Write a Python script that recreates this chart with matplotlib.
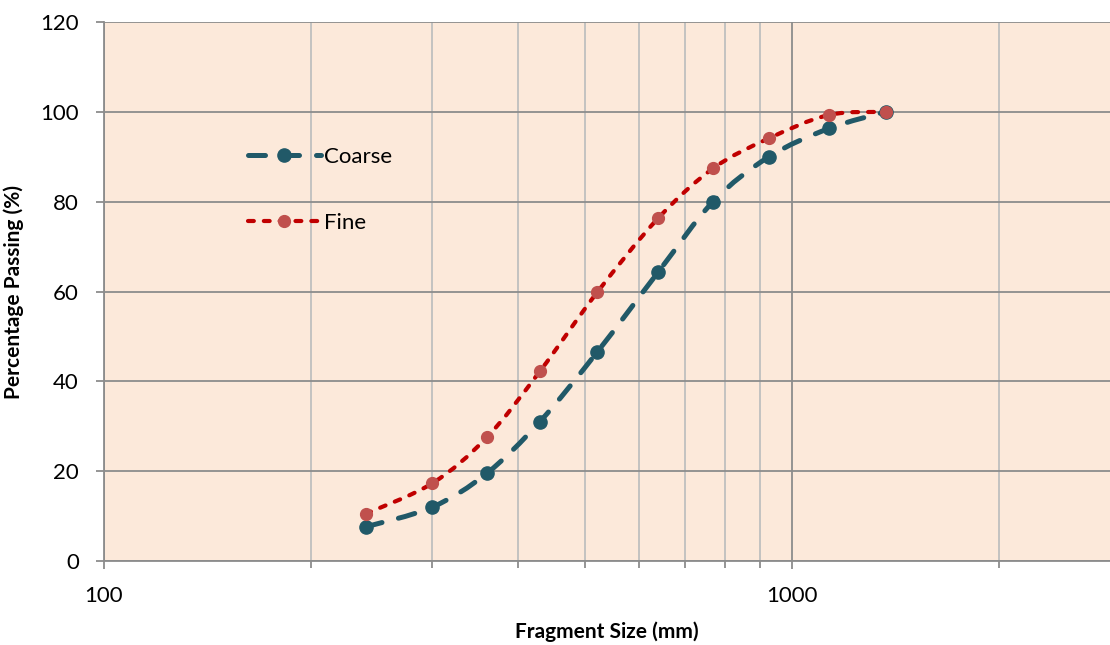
import numpy as np
import matplotlib
matplotlib.use('Agg')
import matplotlib.pyplot as plt
from matplotlib.path import Path
from matplotlib.patches import PathPatch
from matplotlib.lines import Line2D
import matplotlib.ticker as ticker

plt.rcParams['font.family'] = ['Lato', 'DejaVu Sans']

# data
size_mm = [240, 300, 360, 430, 521, 639, 768, 926, 1132, 1369]
coarse = [7.6, 12.0, 19.5, 31.0, 46.5, 64.3, 80.0, 90.0, 96.3, 100.0]
fine = [10.5, 17.3, 27.5, 42.2, 59.8, 76.3, 87.4, 94.1, 99.3, 100.0]

bg = '#FCE9DA'
c_coarse = '#215968'
c_fine_line = '#C00000'
c_fine_mark = '#C0504D'


def smooth_path(xs, ys):
    # Excel-style smoothed line: cubic Bezier through the points (log-x space)
    u = np.log10(np.asarray(xs, float))
    v = np.asarray(ys, float)
    p = np.column_stack([u, v])
    n = len(p)
    verts = [p[0]]
    codes = [Path.MOVETO]
    for i in range(n - 1):
        p0 = p[i - 1] if i > 0 else p[i]
        p3 = p[i + 2] if i + 2 < n else p[i + 1]
        c1 = p[i] + (p[i + 1] - p0) / 6.0
        c2 = p[i + 1] - (p3 - p[i]) / 6.0
        verts += [c1, c2, p[i + 1]]
        codes += [Path.CURVE4] * 3
    verts = np.array(verts)
    verts[:, 0] = 10 ** verts[:, 0]
    return Path(verts, codes)


fig = plt.figure(figsize=(11.1, 6.45), dpi=100)
ax = fig.add_axes([0.0937, 0.1302, 0.9063, 0.8357])
ax.set_facecolor(bg)
ax.set_xscale('log')
ax.set_xlim(100, 2900)
ax.set_ylim(0, 120)

coarse_dash = (0, (3.4, 3.4))
fine_dash = (0, (1.4, 2.4))

ax.add_patch(PathPatch(smooth_path(size_mm, coarse), fill=False, edgecolor=c_coarse,
                       lw=3.6, linestyle=coarse_dash, capstyle='round', zorder=3))
ax.plot(size_mm, coarse, ls='none', marker='o', ms=9.5, color=c_coarse, zorder=4)

ax.add_patch(PathPatch(smooth_path(size_mm, fine), fill=False, edgecolor=c_fine_line,
                       lw=3.0, linestyle=fine_dash, capstyle='round', zorder=5))
ax.plot(size_mm, fine, ls='none', marker='o', ms=8.5, color=c_fine_mark, zorder=6)

# grid and ticks
ax.yaxis.set_major_locator(ticker.MultipleLocator(20))
ax.xaxis.set_major_locator(ticker.LogLocator(base=10))
ax.xaxis.set_minor_locator(ticker.LogLocator(base=10, subs=np.arange(2, 10)))
ax.xaxis.set_major_formatter(ticker.FuncFormatter(lambda v, p: f'{v:.0f}'))
ax.xaxis.set_minor_formatter(ticker.NullFormatter())
ax.grid(True, which='major', axis='both', color='#8C8C8C', lw=1.3, zorder=1)
ax.grid(True, which='minor', axis='x', color='#BFBFBF', lw=1.3, zorder=1)
ax.set_axisbelow(True)

for s in ['top', 'right']:
    ax.spines[s].set_visible(False)
for s in ['left', 'bottom']:
    ax.spines[s].set_color('#8C8C8C')
    ax.spines[s].set_linewidth(1.3)

ax.tick_params(axis='both', which='major', direction='out', length=6, width=1.3,
               color='#8C8C8C', labelsize=16, labelcolor='black')
ax.tick_params(axis='x', which='major', pad=12)
ax.tick_params(axis='y', which='major', pad=12)
ax.tick_params(axis='x', which='minor', direction='out', length=5, width=1.3, color='#8C8C8C')

ax.set_xlabel('Fragment Size (mm)', fontsize=15, fontweight='bold', labelpad=11)
ax.set_ylabel('Percentage Passing (%)', fontsize=15, fontweight='bold', labelpad=12)

handles = [
    Line2D([], [], color=c_coarse, lw=3.6, linestyle=coarse_dash, dash_capstyle='round',
           marker='o', ms=9.5, mfc=c_coarse, mec=c_coarse),
    Line2D([], [], color=c_fine_line, lw=3.0, linestyle=fine_dash, dash_capstyle='round',
           marker='o', ms=8.5, mfc=c_fine_mark, mec=c_fine_mark),
]
ax.legend(handles, ['Coarse', 'Fine'], loc='upper left', bbox_to_anchor=(0.123, 0.805),
          frameon=False, fontsize=16, handlelength=3.3, labelspacing=2.05,
          handletextpad=0.15)

fig.savefig('out.png', dpi=100, facecolor='white')
